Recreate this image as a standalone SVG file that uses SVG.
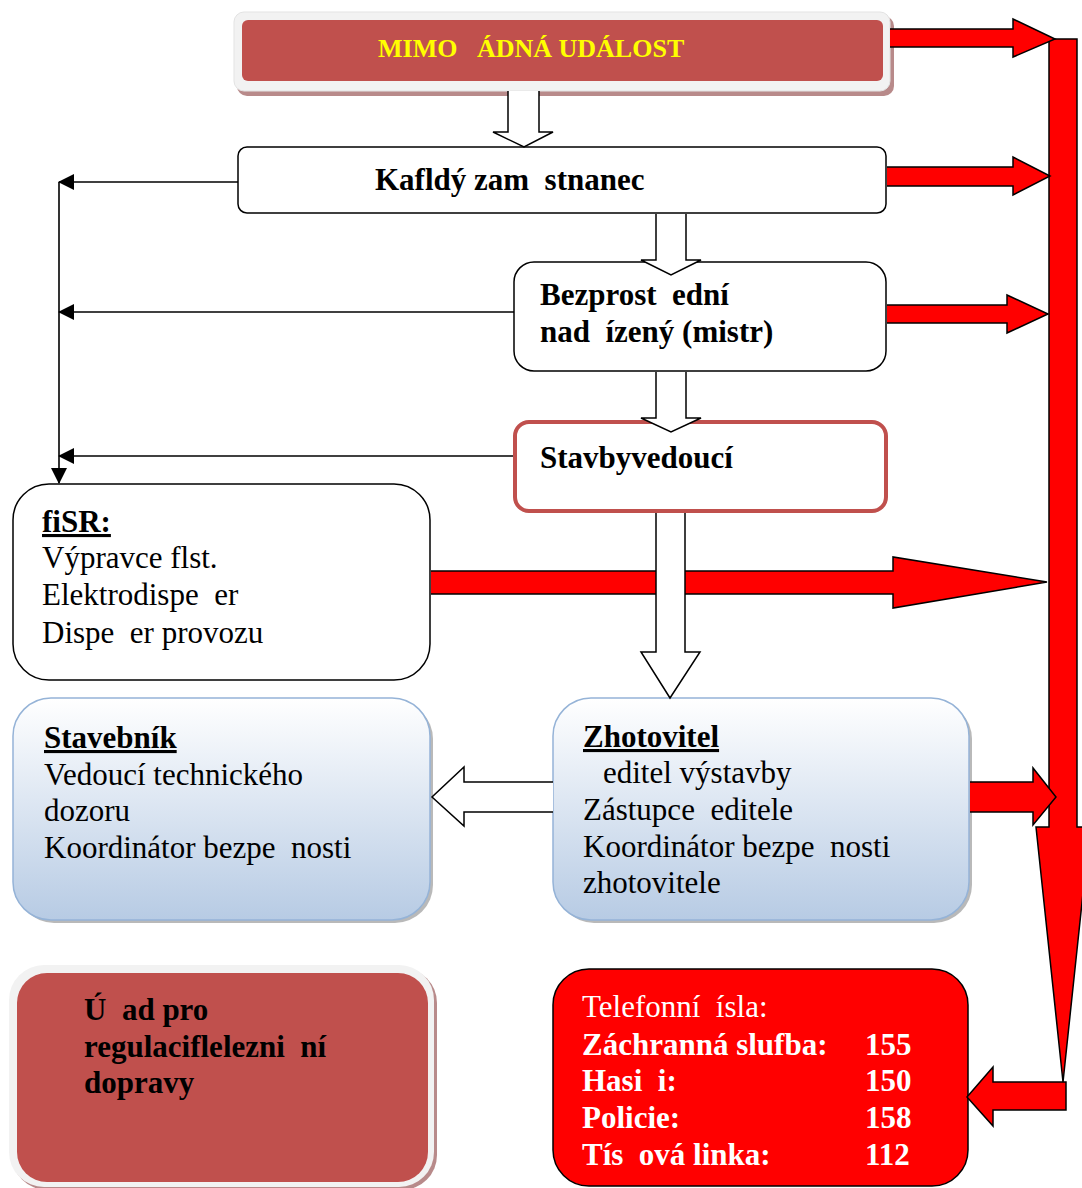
<svg xmlns="http://www.w3.org/2000/svg" width="1082" height="1188" viewBox="0 0 1082 1188" xml:space="preserve">
<defs>
<style>
.t{font-family:"Liberation Serif","Times New Roman",serif;font-size:31px;fill:#000;white-space:pre}
.b{font-weight:bold}
.u{text-decoration:underline}
.w{fill:#fff}
.box{fill:#fff;stroke:#000;stroke-width:1.5}
.blue{fill:url(#gBlue);stroke:#95b3d7;stroke-width:1.5}
.shd{fill:#7f7f7f;opacity:0.55}
.red{fill:#ff0000;stroke:#000;stroke-width:1.5;stroke-linejoin:miter}
.hol{fill:#fff;stroke:#000;stroke-width:1.5}
.ln{fill:none;stroke:#000;stroke-width:1.6}
</style>
<linearGradient id="gBlue" x1="0" y1="0" x2="0" y2="1">
<stop offset="0" stop-color="#ffffff"/>
<stop offset="1" stop-color="#b7cbe4"/>
</linearGradient>
<marker id="ah" viewBox="0 0 16 16" refX="15" refY="8" markerWidth="16" markerHeight="16" markerUnits="userSpaceOnUse" orient="auto">
<path d="M0,0 L16,8 L0,16 Z" fill="#000"/>
</marker>
</defs>

<g id="node-mimo">
<rect x="237" y="16" width="657" height="80" rx="10" fill="#b88a8a"/>
<rect x="234" y="12" width="656" height="79" rx="10" fill="#f2f2f2" stroke="#e3e3e3" stroke-width="1"/>
<rect x="242" y="20" width="641" height="61" rx="6" fill="#c0504d"/>
<text class="t b" x="378" y="57" style="font-size:26px;fill:#ffff00">MIMO   ÁDNÁ UDÁLOST</text>
</g>

<g id="node-kazdy">
<rect class="box" x="238" y="147" width="648" height="66" rx="9"/>
<text class="t b" x="375" y="190">Kafldý zam  stnanec</text>
</g>

<g id="node-bezprostredni">
<rect class="box" x="514" y="262" width="372" height="109" rx="20"/>
<text class="t b" x="540" y="305">Bezprost  ední</text>
<text class="t b" x="540" y="342">nad  ízený (mistr)</text>
</g>

<g id="node-stavbyvedouci">
<rect x="515" y="422" width="371" height="89" rx="14" fill="#fff" stroke="#c0504d" stroke-width="4"/>
<text class="t b" x="540" y="468">Stavbyvedoucí</text>
</g>

<g id="node-zsr">
<rect class="box" x="13" y="484" width="417" height="196" rx="36"/>
<text class="t b u" x="42" y="532">fiSR:</text>
<text class="t" x="42" y="568">Výpravce flst.</text>
<text class="t" x="42" y="605">Elektrodispe  er</text>
<text class="t" x="42" y="643">Dispe  er provozu</text>
</g>

<g id="node-stavebnik">
<rect class="shd" x="16" y="701" width="417" height="222" rx="38"/>
<rect class="blue" x="13" y="698" width="417" height="222" rx="38"/>
<text class="t b u" x="44" y="748">Stavebník</text>
<text class="t" x="44" y="785">Vedoucí technického</text>
<text class="t" x="44" y="821">dozoru</text>
<text class="t" x="44" y="858">Koordinátor bezpe  nosti</text>
</g>

<g id="node-zhotovitel">
<rect class="shd" x="556" y="701" width="416" height="222" rx="38"/>
<rect class="blue" x="553" y="698" width="416" height="222" rx="38"/>
<text class="t b u" x="583" y="747">Zhotovitel</text>
<text class="t" x="603" y="783">editel výstavby</text>
<text class="t" x="583" y="820">Zástupce  editele</text>
<text class="t" x="583" y="857">Koordinátor bezpe  nosti</text>
<text class="t" x="583" y="893">zhotovitele</text>
</g>

<g id="node-urad">
<rect x="12" y="968" width="425" height="222" rx="35" fill="#b88a8a"/>
<rect x="9" y="965" width="425" height="222" rx="35" fill="#f2f2f2"/>
<rect x="17" y="973" width="411" height="209" rx="30" fill="#c0504d"/>
<text class="t b" x="84" y="1020">Ú  ad pro</text>
<text class="t b" x="84" y="1057">regulaciflelezni  ní</text>
<text class="t b" x="84" y="1093">dopravy</text>
</g>

<g id="node-telefon">
<rect x="553" y="969" width="415" height="217" rx="36" fill="#ff0000" stroke="#000" stroke-width="1.5"/>
<text class="t w" x="582" y="1017">Telefonní  ísla:</text>
<text class="t b w" x="582" y="1055">Záchranná slufba:<tspan x="865">155</tspan></text>
<text class="t b w" x="582" y="1091">Hasi  i:<tspan x="865">150</tspan></text>
<text class="t b w" x="582" y="1128">Policie:<tspan x="865">158</tspan></text>
<text class="t b w" x="582" y="1165">Tís  ová linka:<tspan x="865">112</tspan></text>
</g>

<g id="connectors">
<path class="red" d="M1049,39 H1077 V827 H1090 L1063,1082 L1036,827 H1049 Z"/>
<path class="red" d="M890,29 H1013 V19 L1055,39 L1013,57 V47 H890"/>
<path class="red" d="M887,167 H1013 V157 L1050,176 L1013,195 V186 H887"/>
<path class="red" d="M887,305 H1007 V295 L1048,314 L1007,333 V323 H887"/>
<path class="red" d="M431,571 H893 V557 L1047,582 L893,608 V594 H431"/>
<path class="red" d="M970,782 H1033 V768 L1056,797 L1033,825 V812 H970"/>
<path class="red" d="M1066,1082 V1110 H993 V1126 L967,1097 L993,1067 V1082 Z"/>

<path class="hol" d="M508,91 V132 H493 L524,147 L553,132 H539 V91"/>
<path class="hol" d="M656,214 V260 H641 L671,275 L701,260 H686 V214"/>
<path class="hol" d="M656,372 V418 H641 L671,432 L701,418 H686 V372"/>
<path class="hol" d="M656,513 V652 H641 L670,698 L700,652 H685 V513"/>
<path class="hol" d="M553,782 H464 V767 L432,797 L464,826 V812 H553"/>

<line class="ln" x1="59" y1="182" x2="59" y2="483" marker-end="url(#ah)"/>
<line class="ln" x1="238" y1="182" x2="59" y2="182" marker-end="url(#ah)"/>
<line class="ln" x1="514" y1="312" x2="59" y2="312" marker-end="url(#ah)"/>
<line class="ln" x1="513" y1="456" x2="59" y2="456" marker-end="url(#ah)"/>
</g>
</svg>
